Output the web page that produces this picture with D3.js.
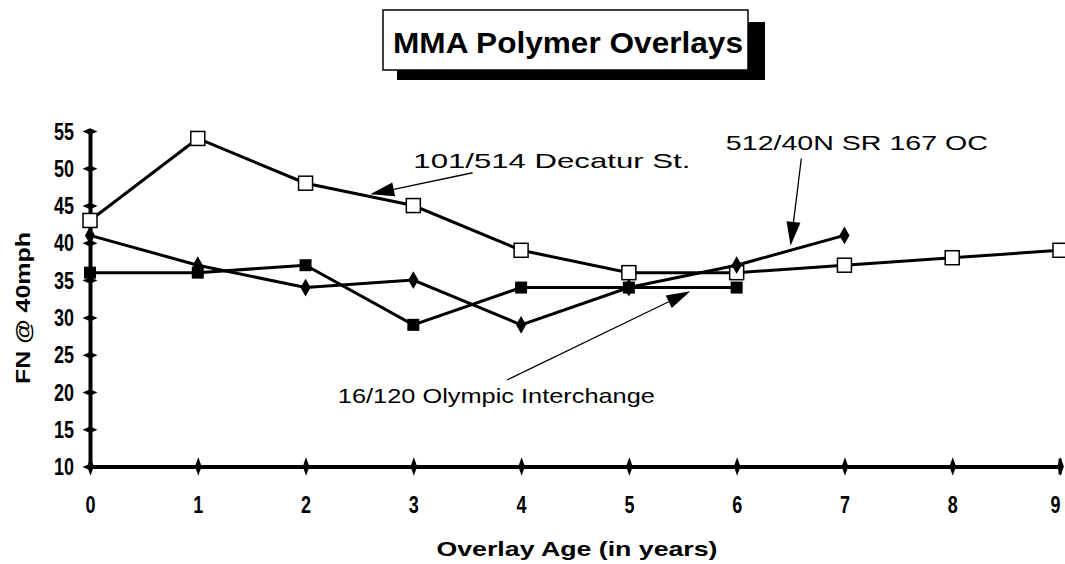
<!DOCTYPE html>
<html>
<head>
<meta charset="utf-8">
<script src="https://cdnjs.cloudflare.com/ajax/libs/d3/7.8.5/d3.min.js"></script>
<style>
    body { margin: 0; background: #fff; }
    svg { display: block; }
    .tick-label { font-family: "Liberation Sans", Arial, sans-serif; font-weight: bold; font-size: 23px; }
    .note { font-family: "Liberation Sans", Arial, sans-serif; font-size: 21px; }
    .axis-title { font-family: "Liberation Sans", Arial, sans-serif; font-weight: bold; font-size: 21px; }
</style>
</head>
<body>
<div id="chart"></div>
<script>

// data
var years = [0, 1, 2, 3, 4, 5, 6, 7, 8, 9];
var decatur = [43, 54, 48, 45, 39, 36, 36, 37, 38, 39];     // 101/514 Decatur St.
var olympic = [36, 36, 37, 29, 34, 34, 34];                 // 16/120 Olympic Interchange
var sr167 = [41, 37, 34, 35, 29, 34, 37, 41];               // 512/40N SR 167 OC
var yTicks = [10, 15, 20, 25, 30, 35, 40, 45, 50, 55];

// annotations: text start, arrow tail, arrow tip (data units)
var notes = [
    { text: "101/514 Decatur St.", at: [3.0, 50.0], len: 277, tail: [3.55, 49.4], tip: [2.6, 46.5] },
    { text: "512/40N SR 167 OC", at: [5.9, 52.4], len: 262, tail: [6.6, 51.3], tip: [6.5, 39.6] },
    { text: "16/120 Olympic Interchange", at: [2.3, 18.5], len: 317, tail: [3.87, 21.6], tip: [5.57, 33.5] }
];

var W = 1065, H = 564;

var svg = d3.select("#chart").append("svg")
    .attr("width", W)
    .attr("height", H);

var x = d3.scaleLinear().domain([0, 9]).range([90, 1060]);
var y = d3.scaleLinear().domain([10, 55]).range([466.5, 131]);

// title box with drop shadow
svg.append("rect").attr("x", 397).attr("y", 22).attr("width", 368).attr("height", 58).attr("fill", "#000");
svg.append("rect").attr("x", 383).attr("y", 10).attr("width", 365).attr("height", 60)
    .attr("fill", "#fff").attr("stroke", "#000").attr("stroke-width", 1.5);
svg.append("text")
    .attr("x", 393).attr("y", 53)
    .attr("textLength", 350).attr("lengthAdjust", "spacingAndGlyphs")
    .style("font-family", "'Liberation Sans', Arial, sans-serif")
    .style("font-weight", "bold").style("font-size", "30px")
    .text("MMA Polymer Overlays");

// axes
var xAxis = d3.axisBottom(x).tickValues(years).tickSize(0).tickPadding(30);
var yAxis = d3.axisLeft(y).tickValues(yTicks).tickSize(0).tickPadding(16);

var gx = svg.append("g").attr("transform", "translate(0," + y(10) + ")").call(xAxis);
var gy = svg.append("g").attr("transform", "translate(" + x(0) + ",0)").call(yAxis);

[gx, gy].forEach(function (g) {
    g.select(".domain").attr("stroke", "#000").attr("stroke-width", 4);
    g.selectAll(".tick text")
        .attr("class", "tick-label")
        .attr("fill", "#000")
        // condensed look of the original tick font
        .attr("textLength", function (d) { return String(d).length * 10; })
        .attr("lengthAdjust", "spacingAndGlyphs");
});
gy.selectAll(".tick text").attr("dy", "0.35em");
// last label sits right at the edge, pull it in a touch
gx.selectAll(".tick text").filter(function (d) { return d === 9; }).attr("dx", -5);

// little diamonds on the axes
var diamond = d3.symbol().type(d3.symbolDiamond);
gx.selectAll(".tick").append("path")
    .attr("d", diamond.size(60)())
    .attr("transform", "scale(0.8,1.3)")
    .attr("fill", "#000");
gy.selectAll(".tick").append("path")
    .attr("d", diamond.size(40)())
    .attr("transform", "scale(2.2,0.55)")
    .attr("fill", "#000");
svg.append("line")
    .attr("x1", x(9)).attr("x2", x(9))
    .attr("y1", y(10) - 8).attr("y2", y(10) + 8)
    .attr("stroke", "#000").attr("stroke-width", 3);

// axis titles
svg.append("text").attr("class", "axis-title")
    .attr("x", 577).attr("y", 556)
    .attr("text-anchor", "middle")
    .attr("textLength", 281).attr("lengthAdjust", "spacingAndGlyphs")
    .text("Overlay Age (in years)");
svg.append("text").attr("class", "axis-title")
    .attr("transform", "translate(30,308) rotate(-90)")
    .attr("text-anchor", "middle")
    .attr("textLength", 152).attr("lengthAdjust", "spacingAndGlyphs")
    .text("FN @ 40mph");

// series
var line = d3.line()
    .x(function (d, i) { return x(years[i]); })
    .y(function (d) { return y(d); });

function drawSeries(vals, marker) {
    var g = svg.append("g");
    g.append("path")
        .attr("d", line(vals))
        .attr("fill", "none")
        .attr("stroke", "#000")
        .attr("stroke-width", 3);
    var pts = g.selectAll(".pt").data(vals).enter();
    if (marker === "open") {
        pts.append("rect")
            .attr("x", function (d, i) { return x(years[i]) - 7; })
            .attr("y", function (d) { return y(d) - 7; })
            .attr("width", 14).attr("height", 14)
            .attr("fill", "#fff").attr("stroke", "#000").attr("stroke-width", 1.5);
    } else if (marker === "square") {
        pts.append("rect")
            .attr("x", function (d, i) { return x(years[i]) - 6; })
            .attr("y", function (d) { return y(d) - 6; })
            .attr("width", 12).attr("height", 12)
            .attr("fill", "#000");
    } else {
        pts.append("path")
            .attr("d", diamond.size(90)())
            .attr("transform", function (d, i) { return "translate(" + x(years[i]) + "," + y(d) + ")"; })
            .attr("fill", "#000");
    }
}

drawSeries(olympic, "square");
drawSeries(decatur, "open");
drawSeries(sr167, "diamond");

// annotations with arrows
notes.forEach(function (n) {
    svg.append("text").attr("class", "note")
        .attr("x", x(n.at[0])).attr("y", y(n.at[1]))
        .attr("textLength", n.len).attr("lengthAdjust", "spacingAndGlyphs")
        .text(n.text);

    var x1 = x(n.tail[0]), y1 = y(n.tail[1]);
    var x2 = x(n.tip[0]), y2 = y(n.tip[1]);
    var a = Math.atan2(y2 - y1, x2 - x1);
    var hl = 24, hw = 7;
    var bx = x2 - hl * Math.cos(a), by = y2 - hl * Math.sin(a);

    svg.append("line")
        .attr("x1", x1).attr("y1", y1)
        .attr("x2", bx).attr("y2", by)
        .attr("stroke", "#000").attr("stroke-width", 1.3);
    svg.append("path")
        .attr("d", "M" + x2 + "," + y2 +
            "L" + (bx + hw * Math.sin(a)) + "," + (by - hw * Math.cos(a)) +
            "L" + (bx - hw * Math.sin(a)) + "," + (by + hw * Math.cos(a)) + "Z")
        .attr("fill", "#000");
});

</script>
</body>
</html>
